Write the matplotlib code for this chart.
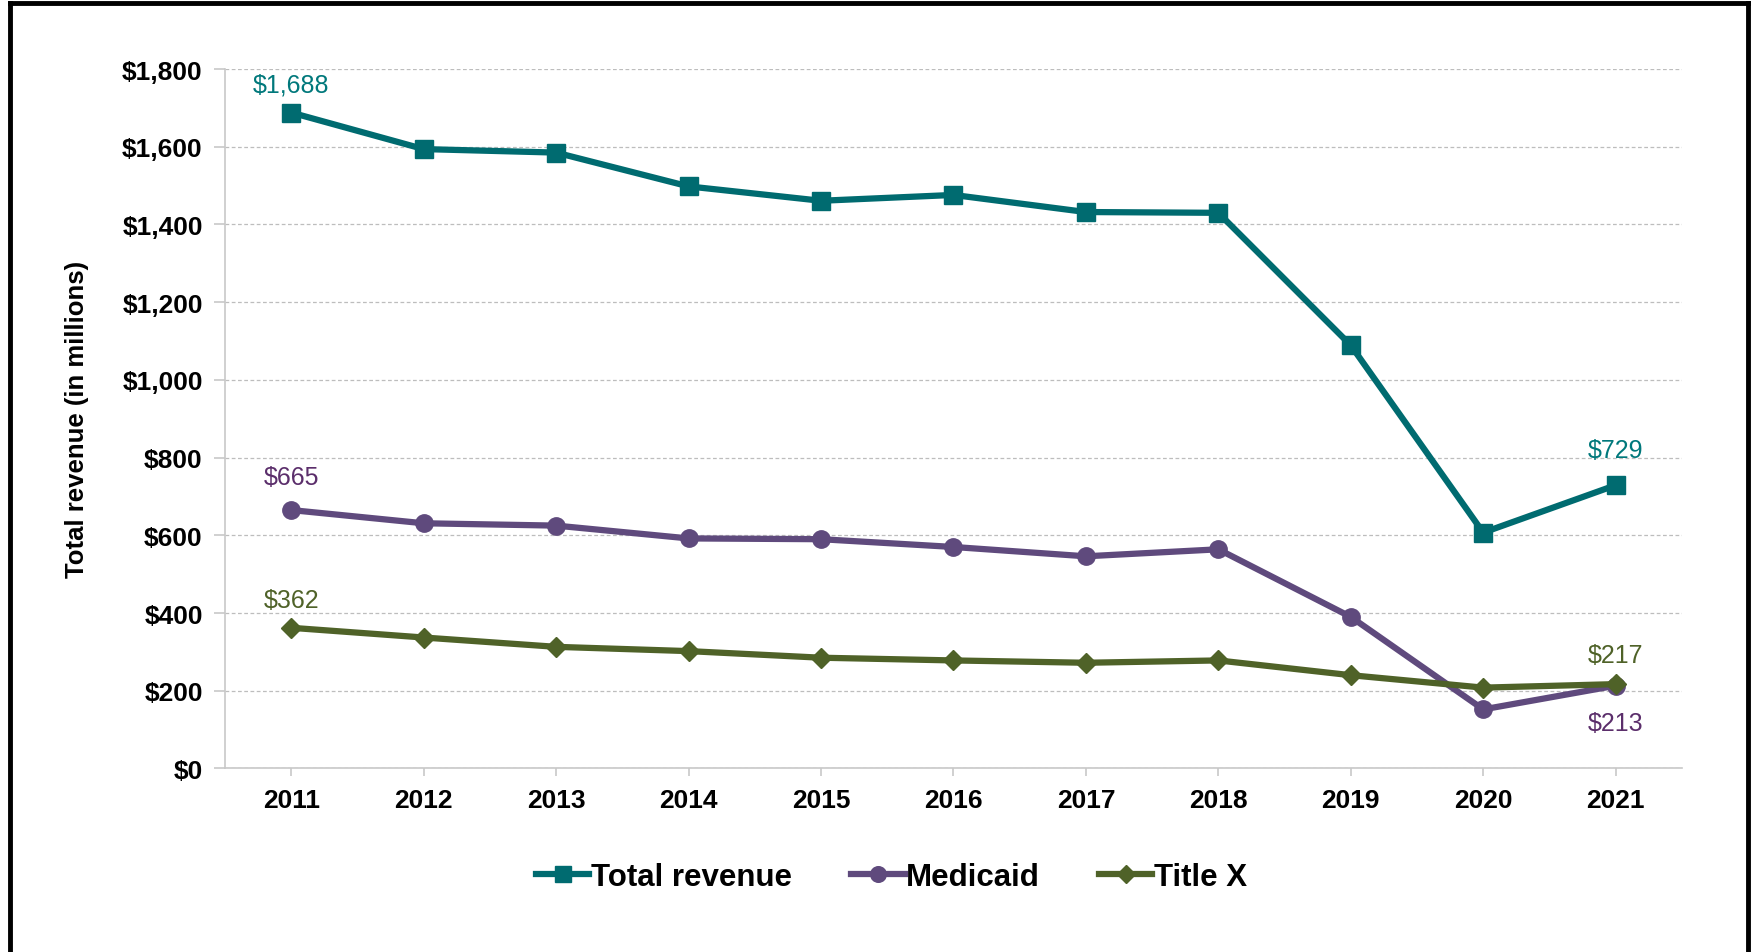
import matplotlib.pyplot as plt
from matplotlib.lines import Line2D
from matplotlib.ticker import FuncFormatter

years = ["2011", "2012", "2013", "2014", "2015", "2016", "2017", "2018", "2019", "2020", "2021"]
total_revenue = [1688, 1594, 1585, 1498, 1461, 1476, 1432, 1430, 1089, 607, 729]
medicaid = [665, 631, 625, 592, 590, 570, 546, 564, 390, 152, 213]
title_x = [362, 337, 313, 302, 285, 278, 272, 278, 240, 208, 217]

TEAL = "#006B70"
PURPLE = "#5F4A7D"
GREEN = "#4F6228"

plt.rcParams["font.family"] = ["Liberation Sans", "DejaVu Sans"]

fig = plt.figure(figsize=(17.52, 9.53), dpi=100)
ax = fig.add_axes([0.1284, 0.1926, 0.8316, 0.7339])

x = list(range(len(years)))
ax.plot(x, total_revenue, color=TEAL, lw=4.5, marker="s", ms=12.5, label="Total revenue", zorder=3)
ax.plot(x, medicaid, color=PURPLE, lw=4.5, marker="o", ms=12.5, label="Medicaid", zorder=3)
ax.plot(x, title_x, color=GREEN, lw=4.5, marker="D", ms=10.5, label="Title X", zorder=3)

ax.set_xlim(-0.5, len(years) - 0.5)
ax.set_ylim(0, 1800)
ax.set_yticks(range(0, 1801, 200))
ax.yaxis.set_major_formatter(FuncFormatter(lambda v, p: f"${v:,.0f}"))
ax.set_xticks(x)
ax.set_xticklabels(years)

ax.grid(axis="y", color="#BDBDBD", ls=(0, (3, 2)), lw=0.9)
ax.set_axisbelow(True)
for s in ["top", "right"]:
    ax.spines[s].set_visible(False)
for s in ["left", "bottom"]:
    ax.spines[s].set_color("#C8C8C8")
    ax.spines[s].set_linewidth(1.2)
ax.tick_params(axis="y", length=8, width=1.2, color="#C8C8C8", pad=8, labelsize=19)
ax.tick_params(axis="x", length=6, width=1.2, color="#C8C8C8", pad=8, labelsize=19)
for lab in ax.get_xticklabels() + ax.get_yticklabels():
    lab.set_fontweight("bold")

ax.set_ylabel("Total revenue (in millions)", fontsize=18.5, fontweight="bold", labelpad=24)

# value labels on the first and last points
def label(i, series, color, dy):
    ax.annotate(f"${series[i]:,}", (i, series[i]), xytext=(0, dy), textcoords="offset pixels",
                ha="center", va="center", color=color, fontsize=18)

label(0, total_revenue, "#00787B", 28)
label(10, total_revenue, "#00787B", 35)
label(0, medicaid, "#5B2E6B", 33)
label(10, medicaid, "#5B2E6B", -37)
label(0, title_x, GREEN, 28)
label(10, title_x, GREEN, 29)

fig.legend(loc="center", bbox_to_anchor=(0.509, 0.079), ncol=3, frameon=False,
           prop={"size": 22.5, "weight": "bold"},
           handlelength=1.7, handletextpad=0.05, columnspacing=1.9, markerscale=0.9)

# black frame round the chart (open at the bottom)
frame = dict(color="black", lw=3.5, transform=fig.transFigure)
fig.add_artist(Line2D([0.0055, 0.0055], [0, 0.9955], **frame))
fig.add_artist(Line2D([0.0055, 0.998], [0.9955, 0.9955], **frame))
fig.add_artist(Line2D([0.998, 0.998], [0, 0.9955], **frame))

fig.savefig("out.png", dpi=100)
